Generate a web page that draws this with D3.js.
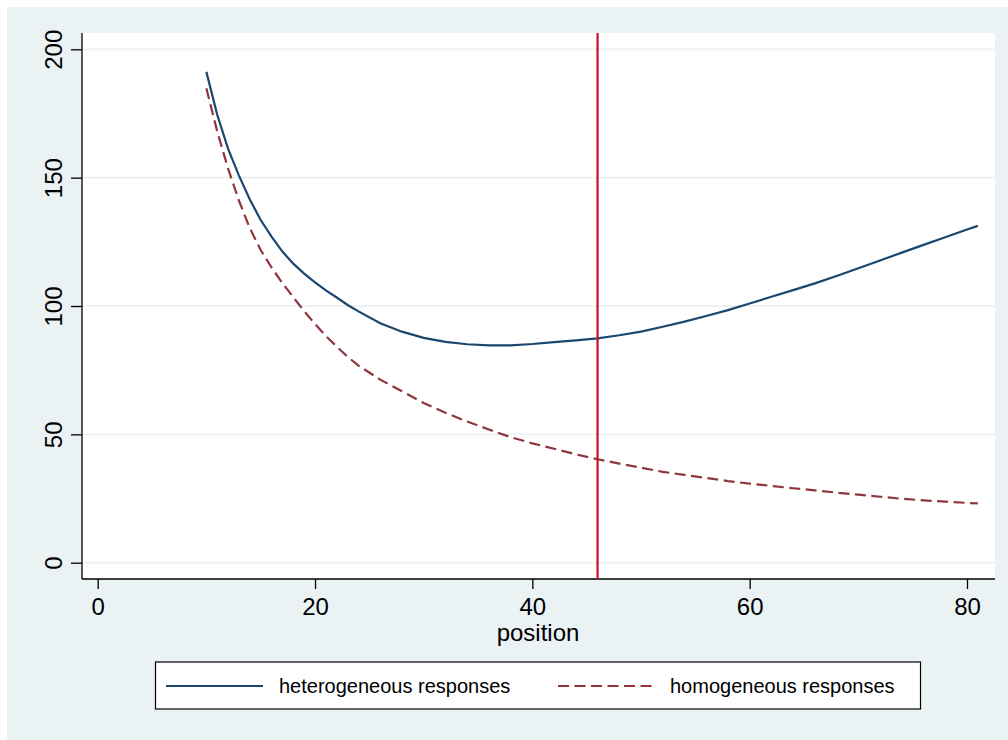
<!DOCTYPE html>
<html>
<head>
<meta charset="utf-8">
<script src="https://cdn.jsdelivr.net/npm/d3@7"></script>
<style>
  body { margin: 0; background: #fff; }
  text { font-family: "Liberation Sans", Arial, sans-serif; fill: #000; }
</style>
</head>
<body>
<svg id="chart" width="1008" height="740"></svg>
<script>
/* DATA */
const positions = [10, 11, 12, 13, 14, 15, 16, 17, 18, 19, 20, 21,
  22, 23, 24, 26, 28, 30, 32, 34, 36, 38, 40, 42, 44, 46, 48, 50,
  52, 54, 56, 58, 60, 62, 64, 66, 68, 70, 72, 74, 76, 78, 80, 81];

const heterogeneous = [191.2, 174.5, 161.2, 150.8, 141.5, 133.5, 127, 121.2, 116.5, 112.6, 109.2, 106.1,
  103.3, 100.4, 97.9, 93.3, 90.0, 87.6, 86.0, 85.1, 84.7, 84.7, 85.2, 85.9, 86.6, 87.4, 88.6, 90.0,
  91.9, 93.9, 96.1, 98.4, 101.0, 103.6, 106.2, 108.8, 111.7, 114.7, 117.7, 120.8, 123.8, 126.8, 129.8, 131.2];

const homogeneous = [184.8, 168, 153.5, 141, 130.3, 121.8, 115, 108.9, 103.4, 98.0, 93.0, 88.3,
  84.2, 80.2, 76.8, 71.3, 66.8, 62.2, 58.4, 55.0, 51.9, 48.9, 46.5, 44.4, 42.2, 40.3, 38.6, 37.0,
  35.4, 34.2, 33.0, 31.8, 30.8, 29.9, 29.0, 28.2, 27.3, 26.5, 25.7, 24.9, 24.3, 23.8, 23.3, 23.1];

const xTicks = [0, 20, 40, 60, 80];
const yTicks = [0, 50, 100, 150, 200];
const refLine = 46;
const seriesNames = ["heterogeneous responses", "homogeneous responses"];

/* LAYOUT */
const plot = { left: 82, top: 33, right: 995, bottom: 579 };
const blue = "#1a476f", maroon = "#90353b", red = "#c8102e", grid = "#eaf2f3";

const svg = d3.select("#chart");

// outer graph region
svg.append("rect")
  .attr("x", 7).attr("y", 7)
  .attr("width", 1001).attr("height", 733)
  .attr("fill", "#eaf2f3");

// plot region
svg.append("rect")
  .attr("x", plot.left).attr("y", plot.top)
  .attr("width", plot.right - plot.left).attr("height", plot.bottom - plot.top)
  .attr("fill", "#fff");

const xScale = d3.scaleLinear().domain([0, 80]).range([97.7, 967]);
const yScale = d3.scaleLinear().domain([0, 200]).range([562.7, 49.3]);

// gridlines
svg.append("g")
  .selectAll("line")
  .data(yTicks)
  .join("line")
  .attr("x1", plot.left).attr("x2", plot.right)
  .attr("y1", d => yScale(d)).attr("y2", d => yScale(d))
  .attr("stroke", grid)
  .attr("stroke-width", 1.8);

// axes
const xAxisGroup = svg.append("g")
  .attr("transform", `translate(0,${plot.bottom})`)
  .call(d3.axisBottom(xScale).tickValues(xTicks).tickSize(10).tickPadding(9).tickSizeOuter(0));

xAxisGroup.select(".domain").remove();
xAxisGroup.append("line")
  .attr("x1", plot.left).attr("x2", plot.right)
  .attr("stroke", "#000").attr("stroke-width", 1.3);
xAxisGroup.selectAll(".tick line").attr("stroke", "#000").attr("stroke-width", 1.3);
xAxisGroup.selectAll(".tick text")
  .attr("font-size", 24)
  .attr("font-family", "Liberation Sans, Arial, sans-serif")
  .attr("fill", "#000");

const yAxisGroup = svg.append("g")
  .attr("transform", `translate(${plot.left},0)`)
  .call(d3.axisLeft(yScale).tickValues(yTicks).tickSize(11).tickSizeOuter(0));

yAxisGroup.select(".domain").remove();
yAxisGroup.append("line")
  .attr("y1", plot.top).attr("y2", plot.bottom)
  .attr("stroke", "#000").attr("stroke-width", 1.3);
yAxisGroup.selectAll(".tick line").attr("stroke", "#000").attr("stroke-width", 1.3);
yAxisGroup.selectAll(".tick text")
  .attr("x", null).attr("dy", null)
  .attr("transform", "translate(-20,0) rotate(-90)")
  .attr("text-anchor", "middle")
  .attr("font-size", 24)
  .attr("font-family", "Liberation Sans, Arial, sans-serif")
  .attr("fill", "#000");

// axis title
svg.append("text")
  .attr("x", 538).attr("y", 641)
  .attr("text-anchor", "middle")
  .attr("font-size", 24)
  .text("position");

// lines
const rows = positions.map((p, i) => ({ x: p, het: heterogeneous[i], hom: homogeneous[i] }));

const hetLine = d3.line().x(d => xScale(d.x)).y(d => yScale(d.het));
const homLine = d3.line().x(d => xScale(d.x)).y(d => yScale(d.hom));

svg.append("path")
  .datum(rows)
  .attr("d", hetLine)
  .attr("fill", "none")
  .attr("stroke", blue)
  .attr("stroke-width", 2.2);

svg.append("path")
  .datum(rows)
  .attr("d", homLine)
  .attr("fill", "none")
  .attr("stroke", maroon)
  .attr("stroke-width", 2.2)
  .attr("stroke-dasharray", "11,5.5");

// reference line
svg.append("line")
  .attr("x1", xScale(refLine)).attr("x2", xScale(refLine))
  .attr("y1", plot.top).attr("y2", plot.bottom)
  .attr("stroke", red)
  .attr("stroke-width", 2.2);

// legend
const legend = svg.append("g");
legend.append("rect")
  .attr("x", 155.5).attr("y", 662)
  .attr("width", 765).attr("height", 47)
  .attr("fill", "#fff")
  .attr("stroke", "#000")
  .attr("stroke-width", 1.2);

const legendItems = [
  { name: seriesNames[0], color: blue, dash: null, x1: 166, x2: 263, tx: 279 },
  { name: seriesNames[1], color: maroon, dash: "11,5.5", x1: 558, x2: 656, tx: 670 }
];

legend.selectAll("line")
  .data(legendItems)
  .join("line")
  .attr("x1", d => d.x1).attr("x2", d => d.x2)
  .attr("y1", 686).attr("y2", 686)
  .attr("stroke", d => d.color)
  .attr("stroke-width", 2.2)
  .attr("stroke-dasharray", d => d.dash);

legend.selectAll("text")
  .data(legendItems)
  .join("text")
  .attr("x", d => d.tx).attr("y", 692.5)
  .attr("font-size", 20)
  .text(d => d.name);
</script>
</body>
</html>
